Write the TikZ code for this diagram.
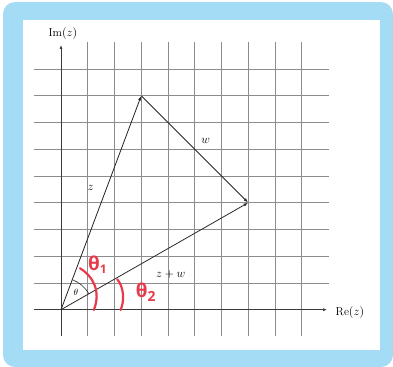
\documentclass[tikz,border=0pt]{standalone}
\usepackage{fontspec}
\newfontfamily\handfont{Open Sans}
\usetikzlibrary{arrows.meta}
\definecolor{framebl}{RGB}{164,220,245}
\definecolor{gridc}{RGB}{140,140,140}
\definecolor{axisc}{RGB}{60,60,60}
\definecolor{vecc}{RGB}{40,40,40}
\definecolor{handred}{RGB}{232,58,74}
\tikzset{
  gridline/.style={draw=gridc, line width=0.7bp},
  axisline/.style={draw=axisc, line width=0.9bp, -{Latex[length=4bp,width=3bp]}},
  vector/.style={draw=vecc, line width=0.8bp, -{Latex[length=4.5bp,width=3.2bp]}},
  vlabel/.style={font=\fontsize{11.5}{13}\selectfont, inner sep=0pt},
  axlabel/.style={font=\fontsize{11.5}{13}\selectfont, inner sep=0pt},
  handarc/.style={draw=handred, line width=2.2bp, line cap=round},
  handlabel/.style={text=handred, font=\handfont\bfseries\fontsize{19}{20}\selectfont, inner sep=0pt},
  pt/.style={inner sep=0pt, minimum size=0pt}
}
\begin{document}
\begin{tikzpicture}[x=1bp,y=-1bp]
\useasboundingbox (0,0) rectangle (393,367);
\fill[framebl, rounded corners=12bp] (3,2) rectangle (393,367);
\fill[white] (22.7,20) rectangle (379.7,349.7);
\begin{scope}[shift={(61,309.7)}, x=26.75bp, y=26.75bp]
  \foreach \i in {1,...,9} \draw[gridline] (\i,-1) -- (\i,10);
  \foreach \j in {1,...,9} \draw[gridline] (-1,\j) -- (10,\j);
  \coordinate (xs) at (-1,0);
  \coordinate (xe) at (9.95,0);
  \coordinate (ys) at (0,-1);
  \coordinate (ye) at (0,9.9);
  \draw[axisline] (xs) -- (xe);
  \draw[axisline] (ys) -- (ye);
  \node[axlabel] (im) at (0.07,10.34) {Im$(z)$};
  \node[axlabel] (re) at (10.8,-0.09) {Re$(z)$};
  \node[pt] (O) at (0,0) {};
  \node[pt] (Z) at (3,8) {};
  \node[pt] (S) at (7,4) {};
  \draw[vector] (O) -- (Z);
  \draw[vector] (Z) -- (S);
  \draw[vector] (O) -- (S);
  \node[vlabel] (lz) at (1.11,4.54) {$z$};
  \node[vlabel] (lw) at (5.41,6.32) {$w$};
  \node[vlabel] (lzw) at (4.10,1.30) {$z+w$};
  \draw[draw=vecc, line width=0.6bp] (O) ++(29.74:1.2) arc[start angle=29.74, end angle=69.44, radius=1.2];
  \node[vlabel, font=\fontsize{9.5}{10}\selectfont] (th) at (0.56,0.64) {$\theta$};
  \draw[handarc] (0.71,1.55) .. controls (1.2,1.25) and (1.5,0.7) .. (1.23,-0.01);
  \draw[handarc] (2.10,1.14) .. controls (2.35,0.85) and (2.38,0.35) .. (2.23,-0.01);
  \node[handlabel] (t1) at (1.36,1.67) {θ\raisebox{-3bp}{\fontsize{12}{13}\selectfont 1}};
  \node[handlabel] (t2) at (3.17,0.66) {θ\raisebox{-4bp}{\fontsize{14}{15}\selectfont 2}};
\end{scope}
\end{tikzpicture}
\end{document}
